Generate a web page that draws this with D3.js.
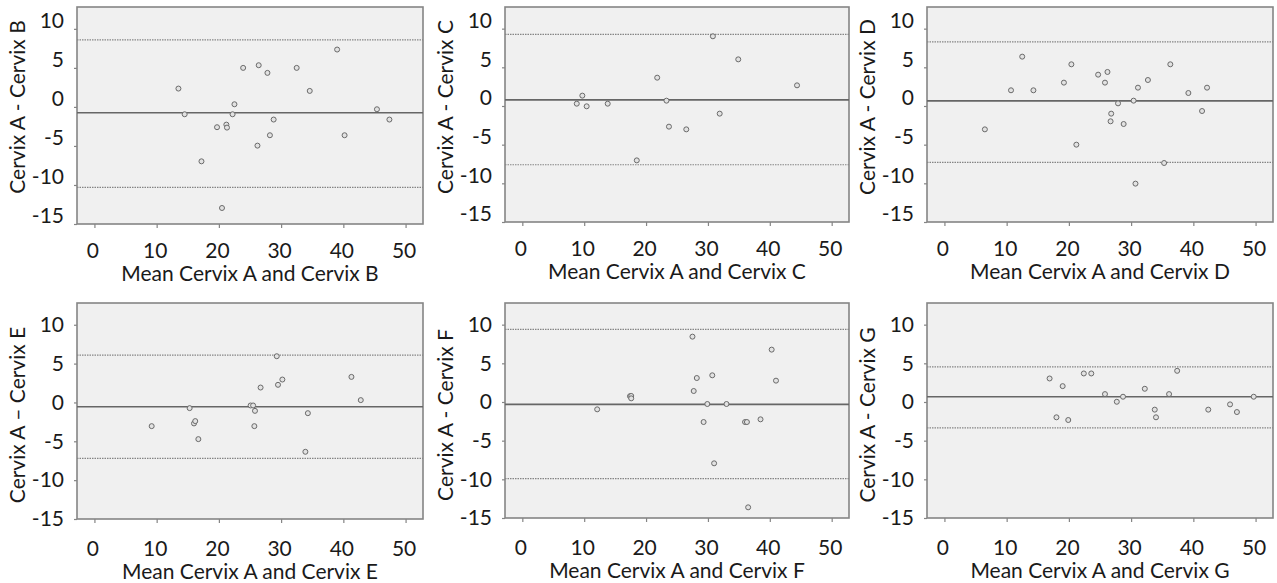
<!DOCTYPE html>
<html>
<head>
<meta charset="utf-8">
<script src="https://cdn.jsdelivr.net/npm/d3@7"></script>
<style>
  body { margin: 0; background: #fff; }
  svg text { font-family: Lato, "Open Sans", sans-serif; fill: #1a1a1a; }
</style>
</head>
<body>
<div class="container"></div>
<script>
// values
var letters = ["B", "C", "D", "E", "F", "G"];
var dashes = ["-", "-", "-", "\u2013", "-", "-"];

var meanB = [13.5, 14.5, 17.2, 19.7, 21.2, 21.3, 20.5, 22.2, 22.5, 23.9, 26.2, 26.4, 27.8, 28.2, 28.8, 32.5, 34.6, 39.0, 40.2, 45.4, 47.4];
var diffB = [2.35, -0.94, -6.97, -2.6, -2.27, -2.65, -12.95, -0.94, 0.34, 5.0, -4.96, 5.34, 4.36, -3.63, -1.62, 5.0, 2.05, 7.35, -3.63, -0.3, -1.62];

var meanC = [8.8, 9.7, 10.4, 13.8, 18.5, 21.8, 23.3, 23.7, 26.5, 30.8, 31.9, 34.9, 44.4];
var diffC = [0.3, 1.34, -0.04, 0.3, -7.03, 3.66, 0.69, -2.67, -3.02, 9.01, -0.99, 6.03, 2.67];

var meanD = [6.5, 10.7, 12.5, 14.3, 19.2, 20.4, 21.2, 24.7, 25.8, 26.2, 26.7, 26.8, 27.9, 28.8, 30.4, 30.7, 31.1, 32.7, 35.3, 36.3, 39.2, 41.4, 42.2];
var diffD = [-3.02, 2.03, 6.38, 2.03, 3.02, 5.39, -5.0, 4.05, 3.02, 4.4, -1.98, -0.99, 0.34, -2.33, 0.69, -10.04, 2.37, 3.36, -7.37, 5.39, 1.68, -0.65, 2.37];

var meanE = [9.2, 15.3, 16.0, 16.2, 16.7, 25.1, 25.5, 25.8, 25.7, 26.7, 29.3, 29.5, 30.2, 33.9, 34.3, 41.3, 42.8];
var diffE = [-3.05, -0.73, -2.7, -2.4, -4.72, -0.39, -0.39, -1.08, -3.05, 1.92, 5.95, 2.27, 2.95, -6.35, -1.38, 3.29, 0.3];

var meanF = [12.1, 17.4, 17.6, 17.6, 27.5, 27.7, 28.2, 29.3, 29.9, 30.7, 31.0, 33.0, 36.0, 36.3, 36.5, 38.5, 40.3, 41.0];
var diffF = [-0.95, 0.75, 0.78, 0.47, 8.45, 1.42, 3.1, -2.59, -0.26, 3.45, -7.93, -0.26, -2.59, -2.59, -13.62, -2.24, 6.77, 2.76];

var meanG = [16.9, 18.0, 19.0, 19.9, 22.4, 23.6, 25.8, 27.7, 28.7, 32.2, 33.8, 34.0, 36.1, 37.4, 42.4, 45.9, 47.0, 49.7];
var diffG = [3.04, -1.98, 2.05, -2.33, 3.69, 3.69, 1.02, 0.03, 0.68, 1.71, -0.99, -1.98, 1.02, 4.03, -0.99, -0.31, -1.3, 0.68];

var bias = [-0.75, 0.8, 0.65, -0.55, -0.3, 0.68];
var upperLoA = [8.6, 9.25, 8.3, 6.1, 9.4, 4.55];
var lowerLoA = [-10.3, -7.6, -7.3, -7.2, -9.9, -3.35];

var xTicks = [0, 10, 20, 30, 40, 50];
var yTicks = [10, 5, 0, -5, -10, -15];

var means = [meanB, meanC, meanD, meanE, meanF, meanG];
var diffs = [diffB, diffC, diffD, diffE, diffF, diffG];

// layout
var w = 1277, h = 583;
var lefts = [77, 505, 927];
var rights = [423, 849, 1273];
var tops = [7, 303];
var bottoms = [[224, 222, 222], [519, 518, 518]];
var yLabelShift = [-8, 0];
var xPad = [15, 18];
var fs = 21;

var svg = d3.select(".container")
    .append("svg")
    .attr("width", w)
    .attr("height", h);

var plain = function(d) { return String(d); };

for (var p = 0; p < 6; p++) {
    var row = Math.floor(p / 3), col = p % 3;
    var L = lefts[col], R = rights[col], T = tops[row], B = bottoms[row][col];

    var x = d3.scaleLinear().domain([-2.8, 52.8]).range([L, R]);
    var y = d3.scaleLinear().domain([-15, 12.8]).range([B, T]);

    var g = svg.append("g");

    g.append("rect")
        .attr("x", L).attr("y", T)
        .attr("width", R - L).attr("height", B - T)
        .attr("fill", "#f0f0f0")
        .attr("stroke", "#858585")
        .attr("stroke-width", 1.6);

    // limits of agreement
    g.selectAll("line.loa")
        .data([upperLoA[p], lowerLoA[p]])
        .enter()
        .append("line")
        .attr("x1", L).attr("x2", R)
        .attr("y1", function(d) { return y(d); })
        .attr("y2", function(d) { return y(d); })
        .attr("stroke", "#858585")
        .attr("stroke-width", 1.2)
        .attr("stroke-dasharray", "1.5,1");

    g.append("line")
        .attr("x1", L).attr("x2", R)
        .attr("y1", y(bias[p])).attr("y2", y(bias[p]))
        .attr("stroke", "#666")
        .attr("stroke-width", 1.7);

    var pts = means[p].map(function(m, i) { return [m, diffs[p][i]]; });
    g.selectAll("circle")
        .data(pts)
        .enter()
        .append("circle")
        .attr("cx", function(d) { return x(d[0]); })
        .attr("cy", function(d) { return y(d[1]); })
        .attr("r", 2.5)
        .attr("fill", "#e2e2e2")
        .attr("stroke", "#6a6a6a")
        .attr("stroke-width", 1);

    var xAxis = g.append("g")
        .attr("transform", "translate(0," + B + ")")
        .call(d3.axisBottom(x).tickValues(xTicks).tickFormat(plain).tickSize(4).tickPadding(xPad[row]));
    var yAxis = g.append("g")
        .attr("transform", "translate(" + L + ",0)")
        .call(d3.axisLeft(y).tickValues(yTicks).tickFormat(plain).tickSize(3).tickPadding(10));

    [xAxis, yAxis].forEach(function(a) {
        a.select(".domain").remove();
        a.selectAll(".tick line").attr("stroke", "#858585").attr("stroke-width", 1.2);
        a.selectAll(".tick text")
            .attr("font-size", fs + "px")
            .attr("fill", "#1a1a1a")
            .attr("font-family", "Lato, 'Open Sans', sans-serif");
    });
    xAxis.selectAll(".tick text").attr("dx", "-2");
    yAxis.selectAll(".tick text").attr("dy", (yLabelShift[row] / fs + 0.32) + "em");

    g.append("text")
        .attr("x", (L + R) / 2)
        .attr("y", B + (row === 0 ? 57 : 60))
        .attr("text-anchor", "middle")
        .attr("font-size", fs + "px")
        .text("Mean Cervix A and Cervix " + letters[p]);

    var cy = row === 0 ? 107 : 415;
    g.append("text")
        .attr("transform", "translate(" + (L - 52) + "," + cy + ")rotate(-90)")
        .attr("text-anchor", "middle")
        .attr("font-size", fs + "px")
        .text("Cervix A " + dashes[p] + " Cervix " + letters[p]);
}
</script>
</body>
</html>
